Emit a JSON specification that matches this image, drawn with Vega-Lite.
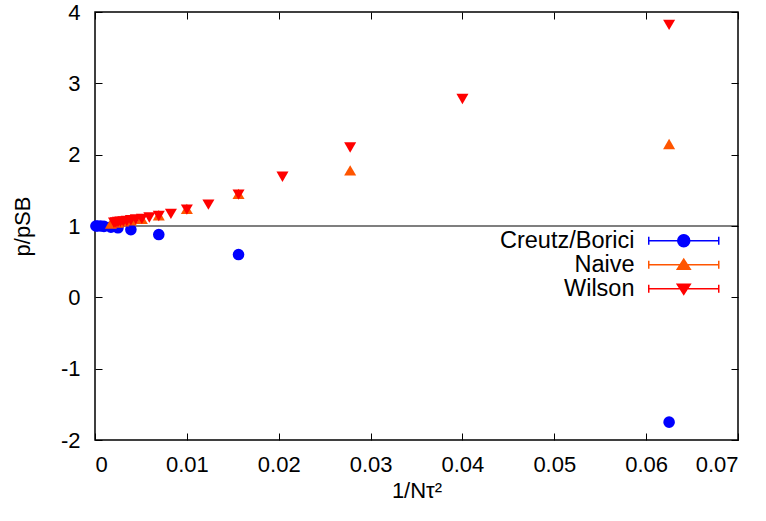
{
  "$schema": "https://vega.github.io/schema/vega-lite/v6.json",
  "width": 643,
  "height": 428,
  "padding": {"left": 11, "top": 1, "right": 5, "bottom": 5},
  "config": {
    "font": "Liberation Sans",
    "view": {"stroke": "black", "strokeWidth": 1.5},
    "axis": {
      "domain": false,
      "grid": false,
      "tickColor": "black",
      "tickSize": -7,
      "tickWidth": 1,
      "labelFontSize": 22,
      "labelColor": "black",
      "labelFont": "Liberation Sans",
      "titleFont": "Liberation Sans",
      "titleFontSize": 22,
      "titleFontWeight": "normal",
      "titleColor": "black"
    }
  },
  "datasets": {
    "pts": [
      {"series": "Creutz/Borici", "x": 0.0625, "y": -1.75},
      {"series": "Creutz/Borici", "x": 0.015625, "y": 0.60},
      {"series": "Creutz/Borici", "x": 0.006944, "y": 0.88},
      {"series": "Creutz/Borici", "x": 0.003906, "y": 0.95},
      {"series": "Creutz/Borici", "x": 0.0025, "y": 0.975},
      {"series": "Creutz/Borici", "x": 0.001736, "y": 0.985},
      {"series": "Creutz/Borici", "x": 0.000977, "y": 0.995},
      {"series": "Creutz/Borici", "x": 0.000625, "y": 1.0},
      {"series": "Creutz/Borici", "x": 0.000278, "y": 1.0},
      {"series": "Creutz/Borici", "x": 0.0001, "y": 1.0},
      {"series": "Naive", "x": 0.0625, "y": 2.15},
      {"series": "Naive", "x": 0.027778, "y": 1.78},
      {"series": "Naive", "x": 0.015625, "y": 1.45},
      {"series": "Naive", "x": 0.01, "y": 1.24},
      {"series": "Naive", "x": 0.006944, "y": 1.15},
      {"series": "Naive", "x": 0.005102, "y": 1.10},
      {"series": "Naive", "x": 0.003906, "y": 1.08},
      {"series": "Naive", "x": 0.003086, "y": 1.065},
      {"series": "Naive", "x": 0.0025, "y": 1.05},
      {"series": "Naive", "x": 0.001736, "y": 1.035},
      {"series": "Wilson", "x": 0.0625, "y": 3.82},
      {"series": "Wilson", "x": 0.04, "y": 2.78},
      {"series": "Wilson", "x": 0.027778, "y": 2.10},
      {"series": "Wilson", "x": 0.020408, "y": 1.69},
      {"series": "Wilson", "x": 0.015625, "y": 1.44},
      {"series": "Wilson", "x": 0.012346, "y": 1.30},
      {"series": "Wilson", "x": 0.01, "y": 1.23},
      {"series": "Wilson", "x": 0.008264, "y": 1.17},
      {"series": "Wilson", "x": 0.006944, "y": 1.14},
      {"series": "Wilson", "x": 0.005917, "y": 1.12},
      {"series": "Wilson", "x": 0.005102, "y": 1.10},
      {"series": "Wilson", "x": 0.004444, "y": 1.09},
      {"series": "Wilson", "x": 0.003906, "y": 1.08},
      {"series": "Wilson", "x": 0.00346, "y": 1.07},
      {"series": "Wilson", "x": 0.003086, "y": 1.065},
      {"series": "Wilson", "x": 0.00277, "y": 1.06},
      {"series": "Wilson", "x": 0.0025, "y": 1.055},
      {"series": "Wilson", "x": 0.002268, "y": 1.05},
      {"series": "Wilson", "x": 0.002066, "y": 1.045}
    ]
  },
  "layer": [
    {
      "data": {"values": [{}]},
      "mark": {"type": "rule", "color": "black", "strokeWidth": 1.2},
      "encoding": {"y": {"datum": 1, "axis": null}}
    },
    {
      "data": {"name": "pts"},
      "encoding": {
        "x": {
          "field": "x", "type": "quantitative",
          "scale": {"domain": [0, 0.07], "nice": false, "zero": false},
          "axis": {"orient": "bottom", "title": "1/Nτ²", "values": [0, 0.01, 0.02, 0.03, 0.04, 0.05, 0.06, 0.07], "labelExpr": "toString(datum.value)", "labelPadding": 21, "titlePadding": 5}
        },
        "y": {
          "field": "y", "type": "quantitative",
          "scale": {"domain": [-2, 4], "nice": false, "zero": false},
          "axis": {"orient": "left", "title": "p/pSB", "values": [-2, -1, 0, 1, 2, 3, 4], "labelExpr": "toString(datum.value)", "labelPadding": 22, "titlePadding": 26}
        },
        "color": {
          "field": "series", "type": "nominal",
          "scale": {"domain": ["Creutz/Borici", "Naive", "Wilson"], "range": ["#0000ff", "#ff5500", "#ff0000"]},
          "legend": {
            "title": null,
            "orient": "none",
            "legendX": 577,
            "legendY": 217,
            "labelFontSize": 23.5,
            "labelColor": "black",
            "labelAlign": "right",
            "labelOffset": -61,
            "symbolSize": 400,
            "symbolStrokeWidth": 1.5,
            "rowPadding": -7,
            "padding": 0
          }
        }
      },
      "layer": [
        {
          "transform": [{"filter": "datum.series === 'Creutz/Borici'"}],
          "mark": {"type": "point", "shape": "circle", "filled": true, "opacity": 1, "size": 135}
        },
        {
          "transform": [{"filter": "datum.series === 'Naive'"}],
          "mark": {"type": "point", "shape": "triangle-up", "filled": true, "opacity": 1, "size": 145}
        },
        {
          "transform": [{"filter": "datum.series === 'Wilson'"}],
          "mark": {"type": "point", "shape": "triangle-down", "filled": true, "opacity": 1, "size": 145}
        },
        {
          "transform": [{"filter": "false"}],
          "mark": {"type": "point", "filled": true, "opacity": 1, "strokeWidth": 1.5},
          "encoding": {
            "stroke": {
              "field": "series", "type": "nominal",
              "scale": {"domain": ["Creutz/Borici", "Naive", "Wilson"], "range": ["#0000ff", "#ff5500", "#ff0000"]},
              "legend": {"title": null}
            },
            "shape": {
              "field": "series", "type": "nominal",
              "scale": {"domain": ["Creutz/Borici", "Naive", "Wilson"], "range": [
                "M-3.5,0H3.5M-3.5,-0.4V0.4M3.5,-0.4V0.4M0.6,0A0.6,0.6,0,1,1,-0.6,0A0.6,0.6,0,1,1,0.6,0Z",
                "M-3.5,0H3.5M-3.5,-0.4V0.4M3.5,-0.4V0.4M0,-0.55L0.65,0.45L-0.65,0.45Z",
                "M-3.5,0H3.5M-3.5,-0.4V0.4M3.5,-0.4V0.4M0,0.55L0.65,-0.45L-0.65,-0.45Z"
              ]},
              "legend": {"title": null}
            }
          }
        }
      ]
    },
    {
      "data": {"name": "pts"},
      "mark": {"type": "point", "opacity": 0},
      "encoding": {
        "x": {"field": "x", "type": "quantitative", "axis": {"orient": "top", "title": null, "labels": false, "values": [0, 0.01, 0.02, 0.03, 0.04, 0.05, 0.06, 0.07]}},
        "y": {"field": "y", "type": "quantitative", "axis": {"orient": "right", "title": null, "labels": false, "values": [-2, -1, 0, 1, 2, 3, 4]}}
      }
    }
  ],
  "resolve": {"axis": {"x": "independent", "y": "independent"}}
}
